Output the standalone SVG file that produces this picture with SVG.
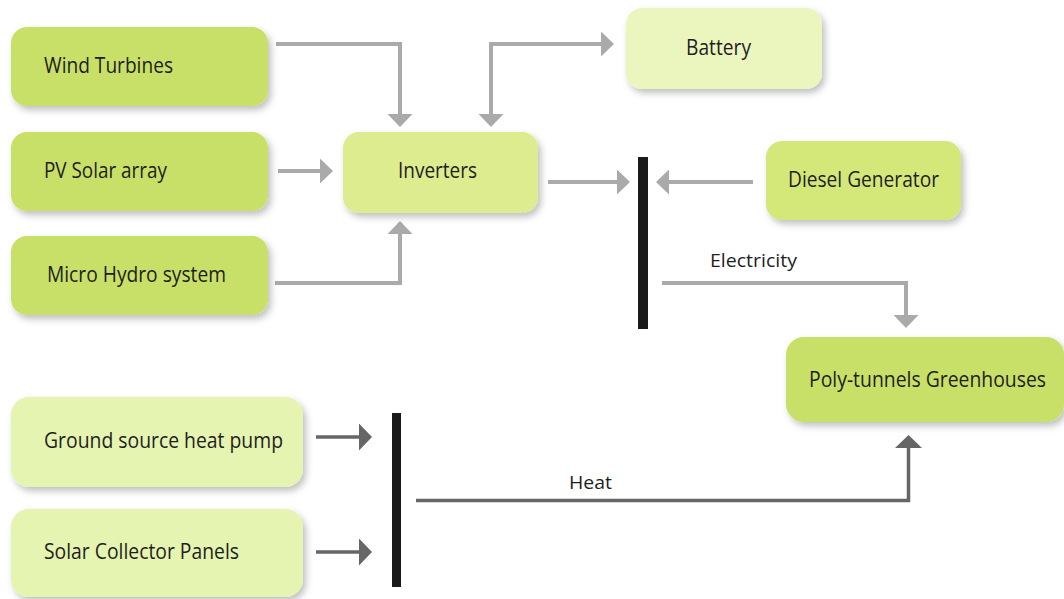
<svg xmlns="http://www.w3.org/2000/svg" width="1064" height="599" viewBox="0 0 1064 599">
<defs>
<filter id="sh" x="-10%" y="-20%" width="125%" height="150%">
<feDropShadow dx="3" dy="4" stdDeviation="3.5" flood-color="#000" flood-opacity="0.25"/>
</filter>
<marker id="ag" markerUnits="userSpaceOnUse" markerWidth="14" markerHeight="26" refX="1" refY="12.5" orient="auto-start-reverse" viewBox="0 0 14 26">
<path d="M0,0 L13,12.5 L0,25 z" fill="#aaaaaa"/>
</marker>
<marker id="ad" markerUnits="userSpaceOnUse" markerWidth="14" markerHeight="28" refX="1" refY="13.5" orient="auto-start-reverse" viewBox="0 0 14 28">
<path d="M0,0 L13,13.5 L0,27 z" fill="#666666"/>
</marker>
</defs>
<style>
.n rect{filter:url(#sh)}
.t{font-family:"Open Sans","Noto Sans","Liberation Sans",sans-serif;font-size:21px;fill:#1e1e1e}
.l{font-family:"Open Sans","Noto Sans","Liberation Sans",sans-serif;font-size:19px;fill:#1e1e1e}
.g{fill:none;stroke:#aaaaaa;stroke-width:4;marker-end:url(#ag)}
.d{fill:none;stroke:#666666;stroke-width:3.5;marker-end:url(#ad)}
.bus{fill:#1a1a1a}
.c1{fill:#c9e068}
.c2{fill:#dcec8e}
.c3{fill:#ebf6bf}
.c4{fill:#d4e87a}
.c5{fill:#e5f4b0}
</style>
<rect width="1064" height="599" fill="#ffffff"/>

<g id="connectors">
<path class="g" d="M276,44 H400 V115"/>
<path class="g" d="M278,171 H321"/>
<path class="g" d="M275,283 H400 V233"/>
<path class="g" d="M491,115 V44 H602" style="marker-start:url(#ag)"/>
<path class="g" d="M548,182 H618"/>
<path class="g" d="M753,182 H668"/>
<path class="g" d="M662,283 H906 V316"/>
<path class="d" d="M316,437 H360"/>
<path class="d" d="M316,552 H360"/>
<path class="d" d="M416,500.5 H908.5 V447"/>
<rect class="bus" x="638" y="157" width="10" height="172"/>
<rect class="bus" x="392" y="413" width="9" height="174"/>
<text class="l" x="710" y="267" textLength="87" lengthAdjust="spacingAndGlyphs">Electricity</text>
<text class="l" x="569" y="489" textLength="43" lengthAdjust="spacingAndGlyphs">Heat</text>
</g>

<g id="wind" class="n">
<rect class="c1" x="11" y="27" width="257" height="79" rx="16"/>
<text class="t" x="44" y="73" textLength="129" lengthAdjust="spacingAndGlyphs">Wind Turbines</text>
</g>
<g id="pv" class="n">
<rect class="c1" x="11" y="132" width="257" height="79" rx="16"/>
<text class="t" x="44" y="178" textLength="123" lengthAdjust="spacingAndGlyphs">PV Solar array</text>
</g>
<g id="hydro" class="n">
<rect class="c1" x="11" y="236" width="257" height="79" rx="16"/>
<text class="t" x="47" y="282" textLength="179" lengthAdjust="spacingAndGlyphs">Micro Hydro system</text>
</g>
<g id="inverters" class="n">
<rect class="c2" x="343" y="132" width="195" height="81" rx="16"/>
<text class="t" x="398" y="178" textLength="79" lengthAdjust="spacingAndGlyphs">Inverters</text>
</g>
<g id="battery" class="n">
<rect class="c3" x="626" y="8" width="196" height="81" rx="16"/>
<text class="t" x="686" y="55" textLength="65" lengthAdjust="spacingAndGlyphs">Battery</text>
</g>
<g id="diesel" class="n">
<rect class="c4" x="766" y="141" width="195" height="79" rx="16"/>
<text class="t" x="788" y="187" textLength="151" lengthAdjust="spacingAndGlyphs">Diesel Generator</text>
</g>
<g id="greenhouses" class="n">
<rect class="c1" x="786" y="337" width="278" height="85" rx="18"/>
<text class="t" x="809" y="387" textLength="237" lengthAdjust="spacingAndGlyphs">Poly-tunnels Greenhouses</text>
</g>
<g id="ground" class="n">
<rect class="c5" x="11" y="397" width="292" height="90" rx="18"/>
<text class="t" x="44" y="448" textLength="239" lengthAdjust="spacingAndGlyphs">Ground source heat pump</text>
</g>
<g id="solarcollector" class="n">
<rect class="c5" x="11" y="509" width="292" height="88" rx="18"/>
<text class="t" x="44" y="559" textLength="195" lengthAdjust="spacingAndGlyphs">Solar Collector Panels</text>
</g>
</svg>
